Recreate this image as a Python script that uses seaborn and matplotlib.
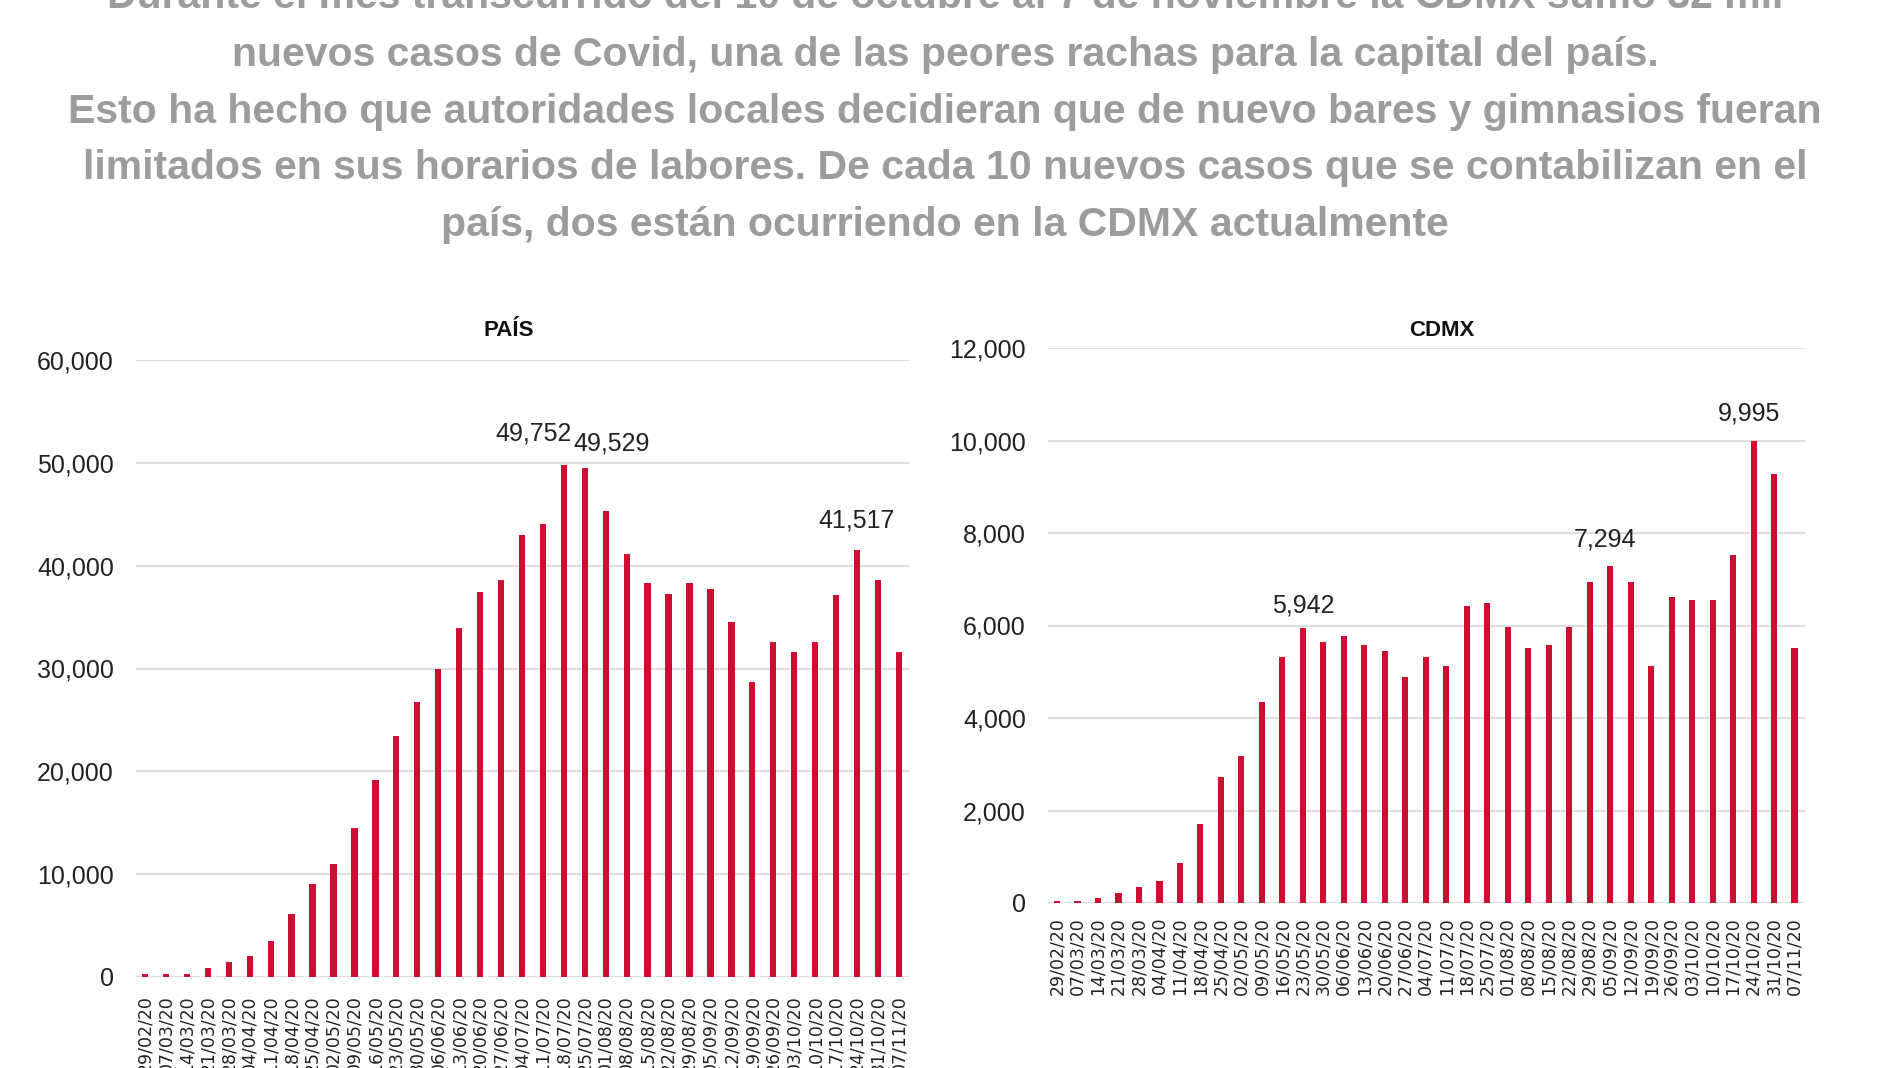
import matplotlib
matplotlib.use("Agg")
import matplotlib.pyplot as plt
import seaborn as sns
import pandas as pd

dates = ["29/02/20", "07/03/20", "14/03/20", "21/03/20", "28/03/20", "04/04/20", "11/04/20",
         "18/04/20", "25/04/20", "02/05/20", "09/05/20", "16/05/20", "23/05/20", "30/05/20",
         "06/06/20", "13/06/20", "20/06/20", "27/06/20", "04/07/20", "11/07/20", "18/07/20",
         "25/07/20", "01/08/20", "08/08/20", "15/08/20", "22/08/20", "29/08/20", "05/09/20",
         "12/09/20", "19/09/20", "26/09/20", "03/10/20", "10/10/20", "17/10/20", "24/10/20",
         "31/10/20", "07/11/20"]

pais = [300, 300, 300, 870, 1450, 2000, 3460, 6100, 9000, 11000, 14500, 19150, 23480, 26700,
        29940, 33980, 37430, 38560, 42960, 44090, 49752, 49529, 45280, 41180, 38340, 37210,
        38340, 37690, 34560, 28710, 32530, 31650, 32530, 37180, 41517, 38560, 31650]

cdmx = [40, 40, 100, 210, 340, 485, 870, 1710, 2730, 3185, 4350, 5320, 5942, 5650, 5770,
        5575, 5450, 4880, 5320, 5130, 6425, 6490, 5960, 5520, 5575, 5960, 6940, 7294, 6940,
        5120, 6610, 6550, 6550, 7530, 9995, 9270, 5520]

pais_ticks = [0, 10000, 20000, 30000, 40000, 50000, 60000]
cdmx_ticks = [0, 2000, 4000, 6000, 8000, 10000, 12000]

# annotated bars: (index, x offset in points, y offset in points)
pais_notes = [(20, -22, 14), (21, 19, 9), (34, 0, 13)]
cdmx_notes = [(12, 0, 8), (27, -4, 10), (34, -3, 11)]

headline = [
    "Durante el mes transcurrido del 10 de octubre al 7 de noviembre la CDMX sumó 32 mil",
    "nuevos casos de Covid, una de las peores rachas para la capital del país.",
    "Esto ha hecho que autoridades locales decidieran que de nuevo bares y gimnasios fueran",
    "limitados en sus horarios de labores. De cada 10 nuevos casos que se contabilizan en el",
    "país, dos están ocurriendo en la CDMX actualmente",
]

sns.set_theme(style="white")
plt.rcParams['font.family'] = ['Liberation Sans', 'DejaVu Sans']

W, H = 1900, 1068
fig = plt.figure(figsize=(W / 100, H / 100), dpi=100)
fig.patch.set_facecolor("white")

BAR = "#cc0e32"
GRID = "#dedede"
TXT = "#222222"


def fig_axes(x0, x1, ytop, ybot):
    return fig.add_axes([x0 / W, 1 - ybot / H, (x1 - x0) / W, (ybot - ytop) / H])


def draw(ax, values, ticks, notes, xlim, label_pad):
    df = pd.DataFrame({"fecha": dates, "casos": values})
    sns.barplot(data=df, x="fecha", y="casos", color=BAR, width=0.3, ax=ax,
                saturation=1, linewidth=0)
    ax.set_ylim(0, ticks[-1])
    ax.set_xlim(*xlim)
    ax.set_yticks(ticks)
    ax.set_yticklabels([f"{t:,}" for t in ticks], fontsize=18, color=TXT)
    for t in ticks:
        ax.axhline(t, color=GRID, lw=1.6, zorder=0)
    ax.set_xticks(range(len(dates)))
    ax.set_xticklabels(dates, rotation=90, fontsize=12.5, family="DejaVu Sans",
                       color=TXT, va="top")
    ax.tick_params(axis="y", length=0, pad=16)
    ax.tick_params(axis="x", length=0, pad=label_pad)
    ax.set_xlabel("")
    ax.set_ylabel("")
    for s in ax.spines.values():
        s.set_visible(False)
    for i, dx, dy in notes:
        ax.annotate(f"{values[i]:,}", xy=(i, values[i]), xytext=(dx, dy),
                    textcoords="offset points", ha="center", va="bottom",
                    fontsize=18, color=TXT)


ax1 = fig_axes(136, 909, 360, 977)
draw(ax1, pais, pais_ticks, pais_notes, (-0.43, 36.48), 13)

ax2 = fig_axes(1048, 1805, 348, 903)
draw(ax2, cdmx, cdmx_ticks, cdmx_notes, (-0.44, 36.51), 10)

fig.text(509 / W, 1 - 330 / H, "PAÍS", ha="center", va="center", fontsize=16,
         fontweight="bold", color="#111111")
fig.text(1442 / W, 1 - 330 / H, "CDMX", ha="center", va="center", fontsize=16,
         fontweight="bold", color="#111111")

centers = [-3, 54.5, 111.5, 168.4, 225.4]
texts = []
for line, yc in zip(headline, centers):
    texts.append(fig.text(945 / W, 1 - yc / H, line, ha="center", va="center",
                          fontsize=30, fontweight="bold", color="#9c9c9c"))

# size the headline so its widest line spans the same width as in the reference
fig.canvas.draw()
renderer = fig.canvas.get_renderer()
w3 = texts[2].get_window_extent(renderer).width
scale = 1760 / w3
for t in texts:
    t.set_fontsize(30 * scale)

fig.savefig("out.png", dpi=100, facecolor="white")
